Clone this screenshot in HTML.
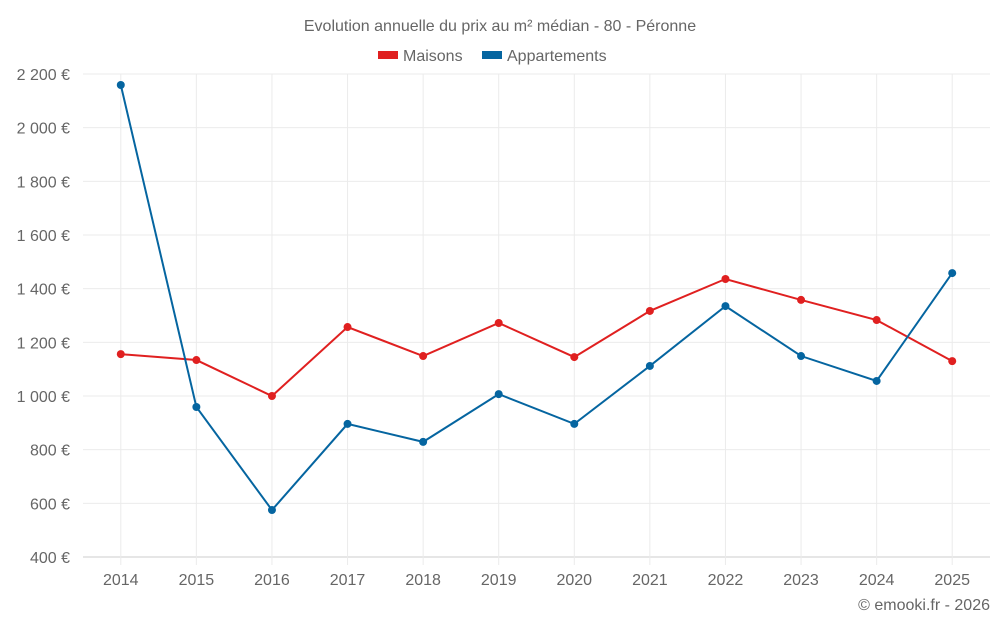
<!DOCTYPE html>
<html><head><meta charset="utf-8"><style>
body{margin:0;background:#fff;font-family:"Liberation Sans",sans-serif;}
svg text{font-family:"Liberation Sans",sans-serif;fill:#666;}
</style></head><body>
<svg id="chart" width="1000" height="625">
<text x="500" y="31" text-anchor="middle" font-size="16">Evolution annuelle du prix au m² médian - 80 - Péronne</text>
<g>
<rect x="378" y="51" width="20" height="8" fill="#e02020"/>
<text x="403" y="61" font-size="16">Maisons</text>
<rect x="482" y="51" width="20" height="8" fill="#0565a0"/>
<text x="507" y="61" font-size="16">Appartements</text>
</g>
<g id="grid"></g><g id="axes"></g><g id="series"></g>
<text x="990" y="610" text-anchor="end" font-size="16">© emooki.fr - 2026</text>
</svg>
<script>
const years=[2014,2015,2016,2017,2018,2019,2020,2021,2022,2023,2024,2025];
const maisons=[1156,1134,1000,1257,1149,1272,1145,1317,1436,1358,1283,1130];
const appartements=[2159,959,575,896,829,1007,896,1112,1335,1149,1056,1458];
const yTicks=[400,600,800,1000,1200,1400,1600,1800,2000,2200];
const yTickLabels=["400 €","600 €","800 €","1 000 €","1 200 €","1 400 €","1 600 €","1 800 €","2 000 €","2 200 €"];
const L=83,R=990,T=74,B=557,ymin=400,ymax=2200;
const step=(R-L)/years.length;
const x=i=>L+step*(i+0.5);
const y=v=>B-(v-ymin)/(ymax-ymin)*(B-T);
const NS="http://www.w3.org/2000/svg";
function mk(tag,attrs,parent){const e=document.createElementNS(NS,tag);for(const k in attrs)e.setAttribute(k,attrs[k]);document.getElementById(parent).appendChild(e);return e;}
yTicks.forEach((v,i)=>{
 const g=mk('line',{x1:L,x2:R,y1:y(v),y2:y(v),stroke:i===0?'#ccc':'#ebebeb','stroke-width':1},'grid');
 
 
 const t=mk('text',{x:70,y:y(v)+6,'text-anchor':'end','font-size':16},'axes');
 t.textContent=yTickLabels[i];
 
 
});
years.forEach((yr,i)=>{
 const g=mk('line',{x1:x(i),x2:x(i),y1:T,y2:B+8,stroke:'#ebebeb','stroke-width':1},'grid');
 
 
 const t=mk('text',{x:x(i),y:585,'text-anchor':'middle','font-size':16},'axes');
 t.textContent=yr;
 
 
});
function series(data,color,name){
 const p=mk('polyline',{points:data.map((v,i)=>x(i)+','+y(v)).join(' '),fill:'none',stroke:color,'stroke-width':2},'series');
 
 
 data.forEach((v,i)=>{
  const c=mk('circle',{cx:x(i),cy:y(v),r:4,fill:color},'series');
  
  
 });
}
series(maisons,'#e02020','maisons');
series(appartements,'#0565a0','appartements');
</script>
</body></html>
